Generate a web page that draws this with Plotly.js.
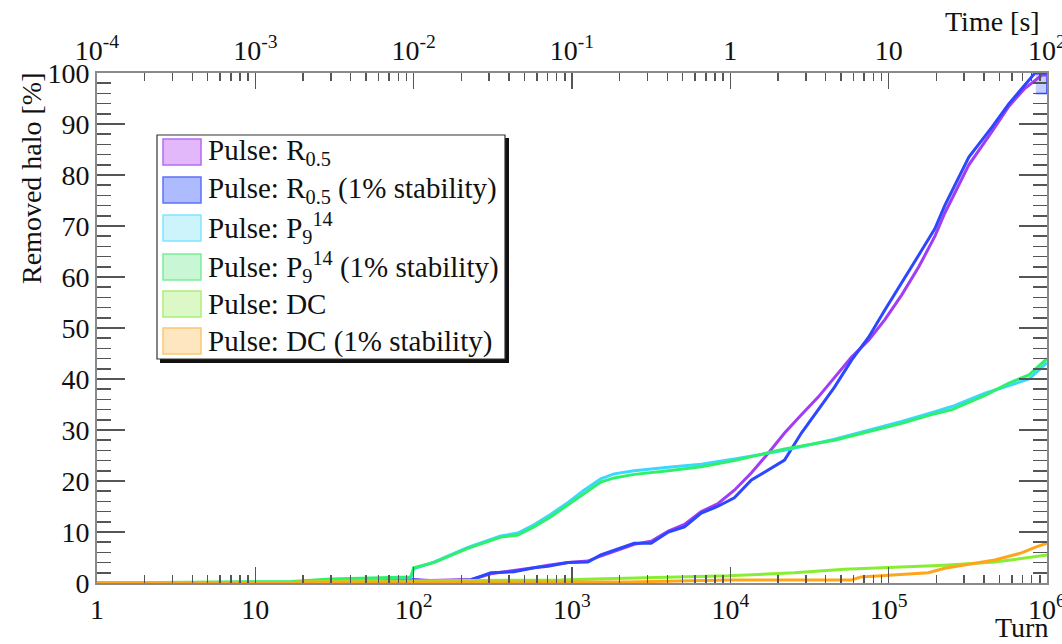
<!DOCTYPE html>
<html>
<head>
<meta charset="utf-8">
<script src="https://cdn.plot.ly/plotly-3.0.1.min.js"></script>
<style>html,body{margin:0;padding:0;background:#fff;}#chart{width:1062px;height:644px;}</style>
</head>
<body>
<div id="chart"></div>
<script>
// ---- data (turn number vs removed halo %) ----
const purTurn = [1, 19, 26, 46, 83, 128, 230, 307, 430, 575, 705, 944, 1260, 1520, 2470, 3160, 4060, 5130, 6550, 8300, 10600, 13600, 17400, 22000, 28100, 36000, 58300, 74700, 94400, 121000, 155000, 196000, 226000, 321000, 449000, 575000, 726000, 930000, 1000000];
const purVal = [0, 0, 0.2, 0.5, 0.8, 0.5, 0.7, 1.8, 2.4, 3.0, 3.5, 4.0, 4.3, 5.3, 7.6, 8.2, 10.2, 11.5, 14, 15.5, 18.2, 21.6, 25.5, 29.4, 33, 36.5, 44.3, 47.6, 51.6, 56.5, 62, 68, 72.5, 82, 88.5, 93.5, 97, 99.6, 99.6];

const bluTurn = [1, 19, 26, 46, 83, 128, 230, 307, 430, 575, 705, 944, 1260, 1520, 2470, 3160, 4060, 5130, 6550, 8300, 10600, 13600, 22000, 28100, 36000, 45500, 58300, 74700, 94400, 121000, 155000, 196000, 226000, 321000, 449000, 575000, 726000, 840000, 1000000];
const bluVal = [0, 0, 0.3, 0.5, 0.8, 0.4, 0.6, 2.0, 2.2, 3.0, 3.3, 4.0, 4.1, 5.5, 7.8, 7.8, 10, 11, 13.7, 15, 16.7, 20.2, 24.1, 29.4, 34, 38.4, 43.7, 48.2, 53.5, 58.8, 64.3, 69.5, 74, 83.5, 89.4, 94, 97.6, 100, 100];

const bandTurn = [850000, 1000000];
const bandLow = [96, 96];
const bandHigh = [100, 100];

const pTurn = [1, 17, 30, 62, 96, 100, 134, 220, 355, 455, 575, 736, 944, 1190, 1520, 1845, 2470, 4060, 6550, 10600, 22000, 45500, 74700, 121000, 196000, 251000, 406000, 575000, 770000, 1000000];
const cyVal = [0, 0.2, 0.6, 0.9, 1.1, 2.8, 4.1, 7.0, 9.2, 9.8, 11.4, 13.5, 15.8, 18.2, 20.4, 21.4, 22.0, 22.7, 23.3, 24.3, 26.0, 28.2, 29.9, 31.7, 33.6, 34.6, 37.2, 38.8, 40.0, 43.2];
const grnVal = [0, 0.3, 0.8, 1.0, 1.2, 3.0, 4.0, 6.8, 9.0, 9.4, 11, 13, 15.3, 17.6, 19.8, 20.6, 21.3, 22.0, 22.8, 24.0, 26.3, 28.0, 29.7, 31.3, 33.2, 34.0, 36.8, 39.2, 40.8, 44];

const dcTurn = [1, 16, 20, 100, 300, 850, 1380, 3000, 9700, 25400, 52800, 109000, 226000, 468000, 770000, 1000000];
const dcVal = [0, 0, 0.3, 0.4, 0.5, 0.6, 0.8, 1.0, 1.4, 2.0, 2.7, 3.1, 3.5, 4.1, 5.1, 5.5];

const orTurn = [1, 16, 20, 300, 2260, 9700, 58300, 67000, 109000, 178000, 226000, 468000, 690000, 840000, 1000000];
const orVal = [0, 0, 0.2, 0.2, 0.2, 0.6, 0.6, 1.2, 1.6, 2.0, 2.9, 4.5, 5.9, 7.0, 7.8];

const turnTickVals = [1, 10, 100, 1000, 10000, 100000, 1000000];
const turnTickText = ["1", "10", "10<sup>2</sup>", "10<sup>3</sup>", "10<sup>4</sup>", "10<sup>5</sup>", "10<sup>6</sup>"];
const timeTickVals = [1e-4, 1e-3, 1e-2, 1e-1, 1, 10, 100];
const timeTickText = ["10<sup>-4</sup>", "10<sup>-3</sup>", "10<sup>-2</sup>", "10<sup>-1</sup>", "1", "10", "10<sup>2</sup>"];

const seriesNames = ["Pulse: R<sub>0.5</sub>", "Pulse: R<sub>0.5</sub> (1% stability)", "Pulse: P<sub>9</sub><sup>14</sup>", "Pulse: P<sub>9</sub><sup>14</sup> (1% stability)", "Pulse: DC", "Pulse: DC (1% stability)"];
const lineColors = ["#a23cf5", "#2b47ff", "#3ad8ff", "#2ff06a", "#88ee33", "#ffa51c"];
const boxFill = ["#e3b8fb", "#aebcff", "#cdf3fb", "#c9f6d5", "#dcf8c6", "#fde6c0"];
const boxLine = ["#b56af5", "#5a72ff", "#7fe6ff", "#78ee98", "#a8f07a", "#fcc872"];

// ---- geometry helpers (pixel -> paper) ----
const L = 97, R = 15, T = 73, B = 61, W = 1062, H = 644;
const pw = W - L - R, ph = H - T - B;
const px = x => (x - L) / pw;
const py = y => (H - B - y) / ph;

const seriesX = [purTurn, bluTurn, pTurn, pTurn, dcTurn, orTurn];
const seriesY = [purVal, bluVal, cyVal, grnVal, dcVal, orVal];

const traces = [];
traces.push({
  x: bandTurn.concat(bandTurn.slice().reverse()),
  y: bandHigh.concat(bandLow.slice().reverse()),
  type: "scatter", mode: "lines", fill: "toself",
  fillcolor: "rgba(90,110,255,0.35)", line: {color: "#2b47ff", width: 1.5},
  showlegend: false, hoverinfo: "skip"
});
for (let i = 0; i < 6; i++) {
  traces.push({
    x: seriesX[i], y: seriesY[i], type: "scatter", mode: "lines",
    name: seriesNames[i], line: {color: lineColors[i], width: 3},
    showlegend: false
  });
}
// empty trace so that the top (time) axis is created
traces.push({x: [], y: [], xaxis: "x2", yaxis: "y", type: "scatter", mode: "lines", showlegend: false});

const fam = "Liberation Serif";
const font = {family: fam, size: 28, color: "#111"};
const legFont = {family: fam, size: 29, color: "#111"};
const axisCommon = {
  showgrid: false, zeroline: false, showline: true, linecolor: "#8a8a8a", linewidth: 2,
  ticks: "inside", tickcolor: "#555", tickwidth: 1.5, tickfont: font, ticklabeloverflow: "allow"
};

const shapes = [];
const annotations = [];
// legend shadow + frame
shapes.push({type: "rect", xref: "paper", yref: "paper", x0: px(160), x1: px(509), y0: py(363), y1: py(138), fillcolor: "#111", line: {width: 0}, layer: "above"});
shapes.push({type: "rect", xref: "paper", yref: "paper", x0: px(157), x1: px(505), y0: py(359), y1: py(135), fillcolor: "#fff", line: {color: "#333", width: 1.2}, layer: "above"});
const rowY = [152, 190, 228, 267, 304, 341];
for (let i = 0; i < 6; i++) {
  shapes.push({type: "rect", xref: "paper", yref: "paper", x0: px(163), x1: px(201), y0: py(rowY[i] + 13), y1: py(rowY[i] - 13), fillcolor: boxFill[i], line: {color: boxLine[i], width: 1.5}, layer: "above"});
  annotations.push({xref: "paper", yref: "paper", x: px(206), y: py(rowY[i]), xanchor: "left", yanchor: "middle", text: seriesNames[i], showarrow: false, font: legFont});
}
annotations.push({xref: "paper", yref: "paper", x: px(1042), y: py(22), xanchor: "right", yanchor: "middle", text: "Time [s]", showarrow: false, font: font});
annotations.push({xref: "paper", yref: "paper", x: px(1050), y: py(627), xanchor: "right", yanchor: "middle", text: "Turn", showarrow: false, font: font});
annotations.push({xref: "paper", yref: "paper", x: px(31), y: py(70), xanchor: "center", yanchor: "top", textangle: -90, text: "Removed halo [%]", showarrow: false, font: font});

const layout = {
  width: W, height: H,
  margin: {l: L, r: R, t: T, b: B, pad: 0},
  paper_bgcolor: "#fff", plot_bgcolor: "#fff",
  font: font,
  showlegend: false,
  xaxis: Object.assign({}, axisCommon, {
    type: "log", range: [0, 6], tickmode: "array", tickvals: turnTickVals, ticktext: turnTickText,
    ticklen: 16, mirror: false,
    minor: {ticks: "inside", ticklen: 8, tickcolor: "#555", tickwidth: 1.5, dtick: "D1", showgrid: false}
  }),
  xaxis2: Object.assign({}, axisCommon, {
    type: "log", range: [-4, 2], overlaying: "x", side: "top", anchor: "y",
    tickmode: "array", tickvals: timeTickVals, ticktext: timeTickText, ticklen: 16,
    minor: {ticks: "inside", ticklen: 8, tickcolor: "#555", tickwidth: 1.5, dtick: "D1", showgrid: false}
  }),
  yaxis: Object.assign({}, axisCommon, {
    range: [0, 100], dtick: 10, ticklen: 28, mirror: "ticks",
    minor: {ticks: "inside", ticklen: 14, tickcolor: "#555", tickwidth: 1.5, dtick: 2, showgrid: false}
  }),
  shapes: shapes,
  annotations: annotations
};

Plotly.newPlot("chart", traces, layout, {displayModeBar: false, staticPlot: true});
</script>
</body>
</html>
